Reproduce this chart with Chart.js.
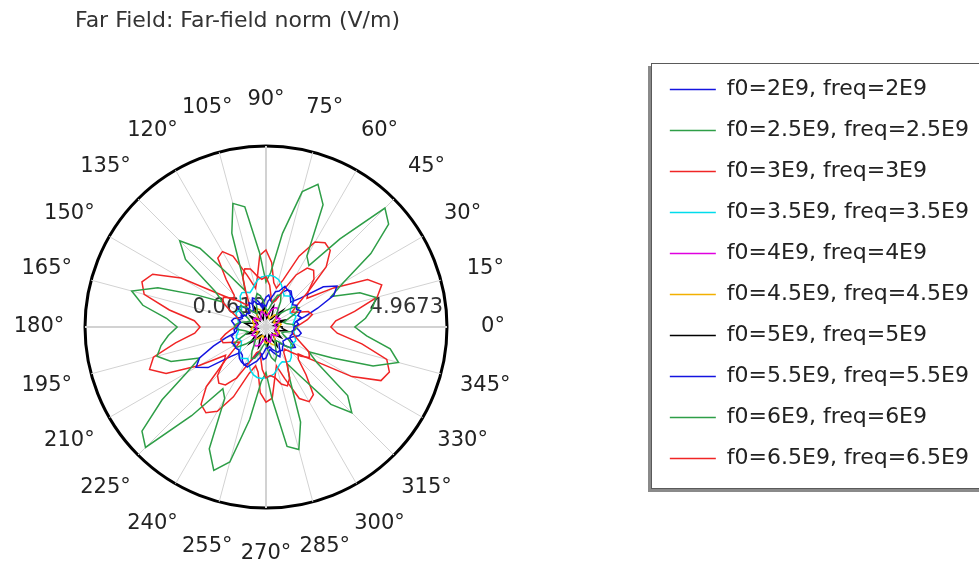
<!DOCTYPE html>
<html>
<head>
<meta charset="utf-8">
<title>Far Field: Far-field norm</title>
<script src="https://cdn.jsdelivr.net/npm/chart.js@4.4.1/dist/chart.umd.min.js"></script>
<style>
  html, body { margin: 0; padding: 0; background: #fff; overflow: hidden; }
  canvas { display: block; }
</style>
</head>
<body>
<canvas id="farField" width="979" height="564"></canvas>
<script>
// polar angle (deg, counter-clockwise from +x)
const angles = [0, 5, 10, 15, 20, 25, 30, 35, 40, 45, 50, 55, 60, 65, 70, 75, 80, 85,
  90, 95, 100, 105, 110, 115, 120, 125, 130, 135, 140, 145, 150, 155, 160, 165, 170, 175,
  180, 185, 190, 195, 200, 205, 210, 215, 220, 225, 230, 235, 240, 245, 250, 255, 260, 265,
  270, 275, 280, 285, 290, 295, 300, 305, 310, 315, 320, 325, 330, 335, 340, 345, 350, 355];
const angleTickStep = 15;

const seriesNames = ['f0=2E9, freq=2E9', 'f0=2.5E9, freq=2.5E9', 'f0=3E9, freq=3E9',
  'f0=3.5E9, freq=3.5E9', 'f0=4E9, freq=4E9', 'f0=4.5E9, freq=4.5E9', 'f0=5E9, freq=5E9',
  'f0=5.5E9, freq=5.5E9', 'f0=6E9, freq=6E9', 'f0=6.5E9, freq=6.5E9'];
const seriesColors = ['#1414e0', '#2e9e47', '#f02525', '#00dcec', '#e000e0', '#f2b000',
  '#000000', '#1414e0', '#2e9e47', '#f02525'];

// far-field norm (V/m), one value per angle
const normF2 = [0.82, 0.95, 0.90, 1.05, 0.98, 1.10, 1.02, 1.08, 1.00, 1.12, 1.15, 1.25, 1.22, 1.28, 1.10, 1.05, 0.85, 0.78,
  0.62, 0.66, 0.58, 0.70, 0.72, 0.84, 0.78, 0.86, 0.74, 0.76, 0.64, 0.70, 0.68, 0.80, 0.74, 0.82, 0.76, 0.80,
  0.84, 0.93, 0.92, 1.03, 1.00, 1.08, 1.04, 1.06, 1.02, 1.10, 1.18, 1.22, 1.24, 1.26, 1.12, 1.02, 0.88, 0.76,
  0.64, 0.64, 0.60, 0.68, 0.74, 0.82, 0.80, 0.84, 0.76, 0.74, 0.66, 0.68, 0.70, 0.78, 0.76, 0.80, 0.78, 0.82];
const normF25 = [0.90, 0.80, 0.62, 0.55, 0.70, 0.95, 1.10, 1.00, 0.75, 0.55, 0.50, 0.62, 0.85, 1.02, 0.98, 0.78, 0.58, 0.50,
  0.55, 0.72, 0.92, 1.00, 0.88, 0.66, 0.52, 0.50, 0.60, 0.80, 0.96, 0.94, 0.76, 0.58, 0.52, 0.60, 0.78, 0.88,
  0.92, 0.82, 0.64, 0.56, 0.68, 0.92, 1.08, 1.02, 0.78, 0.56, 0.50, 0.60, 0.82, 1.00, 0.96, 0.80, 0.60, 0.52,
  0.54, 0.70, 0.90, 1.02, 0.90, 0.68, 0.54, 0.50, 0.58, 0.78, 0.94, 0.96, 0.78, 0.60, 0.52, 0.58, 0.76, 0.86];
const normF3 = [0.87, 1.01, 1.20, 1.36, 1.28, 1.01, 0.87, 1.09, 1.55, 1.90, 2.07, 2.01, 1.69, 1.15, 0.82, 0.74, 0.87, 1.20,
  1.42, 1.36, 1.47, 1.69, 1.74, 1.55, 1.15, 0.87, 0.82, 1.01, 1.28, 1.47, 1.42, 1.15, 0.93, 0.82, 0.77, 0.82,
  0.90, 1.03, 1.18, 1.33, 1.30, 1.04, 0.88, 1.12, 1.58, 1.92, 2.05, 1.98, 1.66, 1.12, 0.80, 0.74, 0.90, 1.22,
  1.44, 1.38, 1.45, 1.66, 1.76, 1.58, 1.18, 0.90, 0.84, 1.03, 1.30, 1.50, 1.40, 1.12, 0.95, 0.84, 0.78, 0.84];
const normF35 = [0.82, 0.79, 0.82, 0.87, 0.93, 0.87, 0.82, 0.87, 0.98, 1.09, 1.15, 1.09, 1.04, 1.15, 1.28, 1.39, 1.44, 1.47,
  1.44, 1.42, 1.36, 1.25, 1.15, 1.09, 1.15, 1.20, 1.15, 1.04, 0.93, 0.87, 0.93, 0.96, 0.90, 0.85, 0.82, 0.82,
  0.84, 0.80, 0.83, 0.88, 0.92, 0.86, 0.83, 0.88, 0.97, 1.08, 1.16, 1.10, 1.05, 1.16, 1.30, 1.40, 1.45, 1.46,
  1.43, 1.40, 1.35, 1.24, 1.14, 1.10, 1.16, 1.19, 1.13, 1.03, 0.94, 0.88, 0.92, 0.95, 0.90, 0.86, 0.83, 0.82];
const normF4 = [0.35, 0.33, 0.30, 0.32, 0.38, 0.45, 0.50, 0.48, 0.42, 0.45, 0.55, 0.62, 0.66, 0.64, 0.58, 0.50, 0.42, 0.38,
  0.36, 0.40, 0.46, 0.50, 0.47, 0.40, 0.34, 0.30, 0.32, 0.38, 0.44, 0.47, 0.44, 0.38, 0.33, 0.30, 0.32, 0.34,
  0.36, 0.33, 0.31, 0.33, 0.38, 0.44, 0.50, 0.47, 0.43, 0.46, 0.56, 0.62, 0.65, 0.63, 0.57, 0.49, 0.42, 0.37,
  0.36, 0.41, 0.46, 0.49, 0.46, 0.40, 0.35, 0.31, 0.33, 0.38, 0.43, 0.46, 0.43, 0.37, 0.33, 0.31, 0.32, 0.34];
const normF45 = [0.40, 0.44, 0.48, 0.45, 0.38, 0.32, 0.30, 0.34, 0.40, 0.46, 0.50, 0.46, 0.38, 0.32, 0.30, 0.33, 0.40, 0.47,
  0.52, 0.50, 0.45, 0.50, 0.56, 0.60, 0.58, 0.50, 0.42, 0.36, 0.33, 0.36, 0.42, 0.46, 0.44, 0.40, 0.38, 0.39,
  0.41, 0.45, 0.47, 0.44, 0.38, 0.33, 0.31, 0.35, 0.41, 0.46, 0.49, 0.45, 0.38, 0.33, 0.31, 0.34, 0.41, 0.47,
  0.51, 0.49, 0.46, 0.51, 0.57, 0.60, 0.57, 0.49, 0.41, 0.36, 0.34, 0.37, 0.43, 0.46, 0.43, 0.40, 0.38, 0.40];
const normF5 = [0.50, 0.35, 0.28, 0.40, 0.62, 0.45, 0.30, 0.28, 0.45, 0.70, 0.52, 0.33, 0.30, 0.48, 0.66, 0.50, 0.34, 0.30,
  0.42, 0.60, 0.48, 0.32, 0.28, 0.44, 0.68, 0.55, 0.36, 0.30, 0.40, 0.58, 0.46, 0.32, 0.30, 0.45, 0.64, 0.52,
  0.48, 0.34, 0.29, 0.41, 0.60, 0.46, 0.31, 0.29, 0.46, 0.68, 0.50, 0.34, 0.31, 0.47, 0.64, 0.48, 0.35, 0.31,
  0.43, 0.58, 0.47, 0.33, 0.29, 0.45, 0.66, 0.53, 0.37, 0.31, 0.41, 0.56, 0.45, 0.33, 0.31, 0.46, 0.62, 0.50];
const normF55 = [0.87, 0.82, 0.87, 1.15, 1.55, 2.09, 2.28, 1.96, 1.28, 1.01, 1.09, 1.20, 1.23, 1.09, 0.87, 0.74, 0.79, 0.93,
  0.87, 0.74, 0.66, 0.74, 0.87, 0.93, 0.82, 0.66, 0.60, 0.74, 0.93, 1.01, 0.87, 0.74, 0.82, 0.96, 1.01, 0.93,
  0.90, 0.84, 0.90, 1.18, 1.58, 2.05, 2.25, 1.98, 1.30, 1.03, 1.06, 1.18, 1.25, 1.12, 0.88, 0.76, 0.80, 0.95,
  0.90, 0.76, 0.68, 0.76, 0.86, 0.95, 0.84, 0.68, 0.62, 0.76, 0.95, 1.03, 0.90, 0.76, 0.84, 0.98, 1.03, 0.95];
const normF6 = [2.47, 2.77, 2.99, 3.15, 2.77, 2.01, 2.50, 3.53, 4.40, 4.62, 3.18, 2.09, 2.28, 3.72, 4.18, 3.86, 2.64, 1.55,
  1.28, 2.09, 3.37, 3.53, 2.77, 1.55, 1.20, 1.74, 2.85, 3.37, 2.91, 1.74, 1.42, 2.09, 3.18, 3.83, 3.45, 2.77,
  2.47, 2.72, 2.95, 3.12, 2.80, 2.05, 2.55, 3.50, 4.45, 4.68, 3.20, 2.10, 2.30, 3.70, 4.20, 3.85, 2.60, 1.55,
  1.30, 2.05, 3.35, 3.50, 2.80, 1.55, 1.22, 1.70, 2.80, 3.35, 2.95, 1.75, 1.40, 2.05, 3.15, 3.78, 3.48, 2.80];
const normF65 = [1.82, 1.96, 2.50, 3.18, 3.40, 3.10, 2.18, 1.42, 1.55, 2.37, 2.77, 2.85, 2.72, 2.18, 1.42, 1.15, 1.28, 1.82,
  2.15, 2.01, 1.42, 1.15, 1.55, 2.18, 2.42, 2.34, 1.74, 1.28, 1.20, 1.63, 2.72, 3.45, 3.64, 3.48, 2.72, 2.01,
  1.85, 2.00, 2.55, 3.22, 3.42, 3.05, 2.15, 1.40, 1.55, 2.35, 2.80, 2.90, 2.70, 2.15, 1.40, 1.15, 1.30, 1.85,
  2.10, 2.00, 1.45, 1.15, 1.55, 2.20, 2.40, 2.30, 1.75, 1.30, 1.20, 1.65, 2.75, 3.50, 3.62, 3.45, 2.70, 2.00];

// radial axis range and its labels
const rMin = 0.0613;
const rMax = 4.9673;
const rangeLabels = ['0.0613', '4.9673'];

const series = [normF2, normF25, normF3, normF35, normF4, normF45, normF5, normF55, normF6, normF65];

// plot geometry
const CX = 266, CY = 327, R = 181, LABEL_R = 227;
const FONT = '"DejaVu Sans", sans-serif';
Chart.defaults.font.family = FONT;

// radar runs clockwise from the top, polar angles run counter-clockwise from the right
const step = angles[1] - angles[0];
const order = angles.map((a, i) => angles.indexOf(((90 - i * step) % 360 + 360) % 360));
const labels = order.map(k => angles[k]);

const legendFrame = {
    id: 'legendFrame',
    beforeDraw(chart) {
        const lg = chart.legend;
        const ctx = chart.ctx;
        const x = Math.round(lg.left);
        const y = Math.round(lg.top) + 4;
        ctx.save();
        ctx.fillStyle = '#8a8a8a';
        ctx.fillRect(x - 3, y + 3, 380, 426);
        ctx.fillStyle = '#ffffff';
        ctx.fillRect(x, y, 380, 426);
        ctx.strokeStyle = '#5a5a5a';
        ctx.lineWidth = 1;
        ctx.strokeRect(x + 0.5, y + 0.5, 380, 425);
        ctx.restore();
    }
};

// radial range at centre / rim, and the angle labels centred on their spokes
const polarText = {
    id: 'polarText',
    beforeDatasetsDraw(chart) {
        const s = chart.scales.r;
        const ctx = chart.ctx;
        const i0 = chart.data.labels.indexOf(0);
        const inner = s.getPointPositionForValue(i0, s.min);
        const outer = s.getPointPositionForValue(i0, s.max);
        ctx.save();
        ctx.font = '21px ' + FONT;
        ctx.fillStyle = '#333';
        ctx.textAlign = 'right';
        ctx.textBaseline = 'middle';
        ctx.fillText(rangeLabels[0], inner.x, inner.y - 19);
        ctx.fillText(rangeLabels[1], outer.x - 4, outer.y - 19);

        ctx.fillStyle = '#222';
        ctx.textAlign = 'center';
        chart.data.labels.forEach((a, i) => {
            if (a % angleTickStep !== 0) return;
            const p = s.getPointPosition(i, LABEL_R);
            ctx.fillText(a + '°', p.x, p.y);
        });
        ctx.restore();
    }
};

new Chart(document.getElementById('farField'), {
    type: 'radar',
    data: {
        labels: labels,
        datasets: series.map((values, i) => ({
            label: seriesNames[i],
            data: order.map(k => values[k]),
            borderColor: seriesColors[i],
            backgroundColor: seriesColors[i],
            borderWidth: 1.5,
            pointRadius: 0,
            fill: false,
            tension: 0
        }))
    },
    options: {
        responsive: false,
        animation: false,
        devicePixelRatio: 1,
        layout: { padding: { left: 75 } },
        plugins: {
            title: {
                display: true,
                text: 'Far Field: Far-field norm (V/m)',
                align: 'start',
                color: '#333',
                font: { size: 22, weight: 'normal' },
                padding: { top: 8, bottom: 25 }
            },
            legend: {
                position: 'right',
                align: 'start',
                fullSize: false,
                labels: {
                    usePointStyle: true,
                    pointStyle: 'line',
                    pointStyleWidth: 46,
                    padding: 19,
                    color: '#222',
                    font: { size: 22 }
                }
            },
            tooltip: { enabled: false }
        },
        scales: {
            r: {
                min: rMin,
                max: rMax,
                startAngle: 0,
                ticks: { display: false, stepSize: 10 },
                grid: {
                    circular: true,
                    color: c => (c.tick && c.tick.value === rMax) ? '#000' : 'rgba(0,0,0,0)',
                    lineWidth: 3
                },
                angleLines: {
                    color: c => labels[c.index] % angleTickStep === 0 ? '#d2d2d2' : 'rgba(0,0,0,0)',
                    lineWidth: c => labels[c.index] % 90 === 0 ? 2 : 1
                },
                pointLabels: { display: false },
                afterSetDimensions: scale => {
                    // fixed centre and radius, as in the original plot
                    scale.xCenter = CX;
                    scale.yCenter = CY;
                    scale.drawingArea = R;
                }
            }
        }
    },
    plugins: [legendFrame, polarText]
});
</script>
</body>
</html>
